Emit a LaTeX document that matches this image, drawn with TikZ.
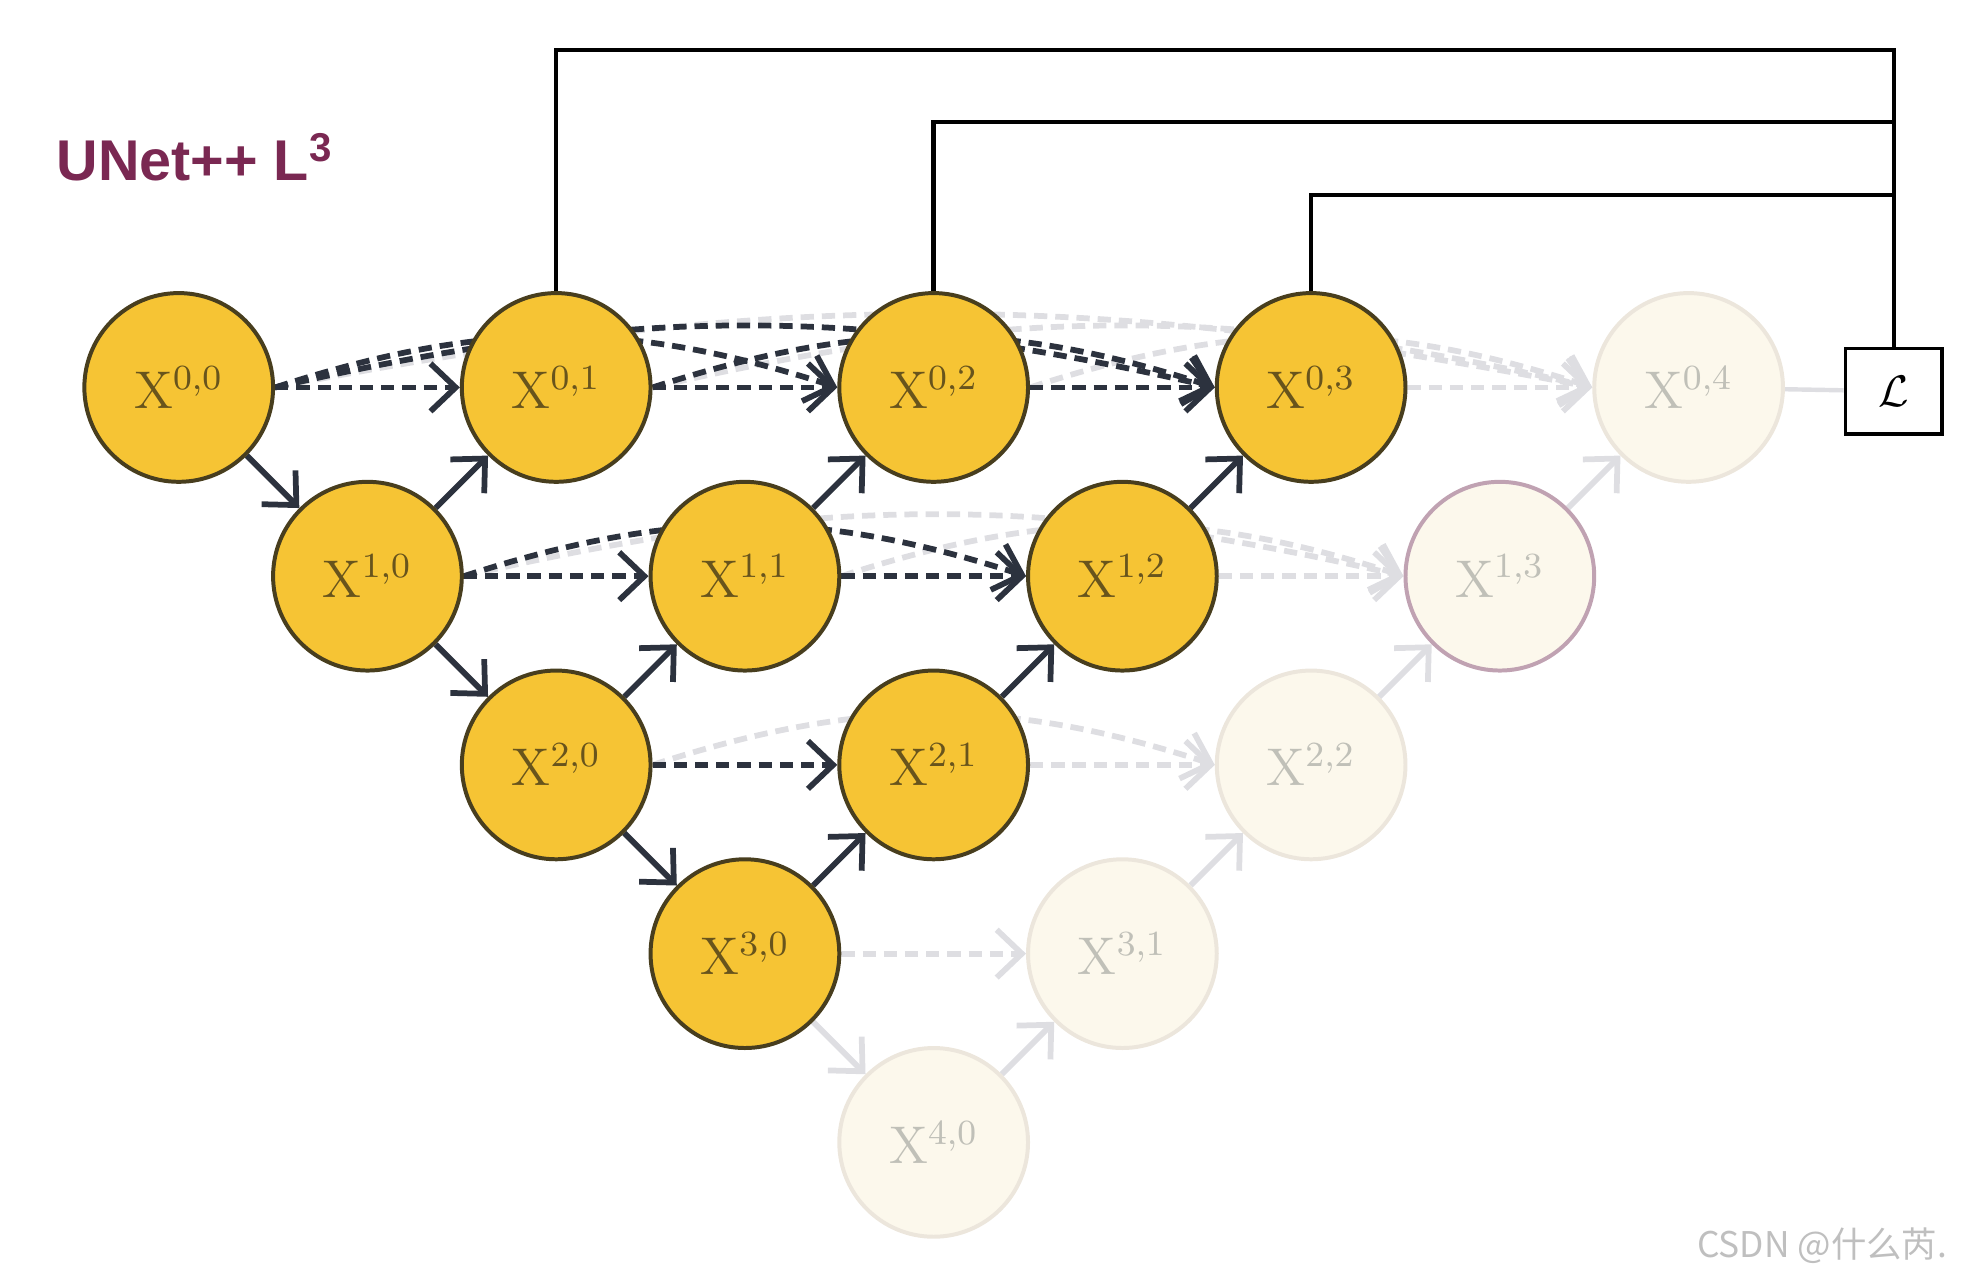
\documentclass[tikz,border=0pt]{standalone}
\usepackage{fontspec}
\usetikzlibrary{arrows.meta,backgrounds}
\newfontfamily\titlefont{Liberation Sans}
\newfontfamily\cjk{Noto Sans CJK SC}
\definecolor{cellfill}{RGB}{246,196,52}
\definecolor{celldraw}{RGB}{72,62,30}
\definecolor{celltext}{RGB}{104,84,28}
\definecolor{ghostfill}{RGB}{252,248,236}
\definecolor{ghostdraw}{RGB}{236,230,220}
\definecolor{ghosttext}{RGB}{192,192,184}
\definecolor{ghostedge}{RGB}{222,222,226}
\definecolor{pinkdraw}{RGB}{192,162,178}
\definecolor{edgecol}{RGB}{44,50,62}
\definecolor{titlecol}{RGB}{122,40,82}
\tikzset{x=1.5cm, y=1.5cm, >={Straight Barb[length=2mm,width=3.8mm]},
    cell/.style={circle, draw=celldraw, fill=cellfill, line width=0.9pt, minimum size=1.5cm,
        inner sep=0pt, text=celltext, font=\large},
    ghost/.style={cell, draw=ghostdraw, fill=ghostfill, text=ghosttext},
    pool/.style={->, line width=1.3pt, draw=edgecol},
    upconv/.style={->, line width=1.3pt, draw=edgecol},
    skipcon/.style={->, line width=1.3pt, draw=edgecol, dash pattern=on 3pt off 1.8pt},
    faded/.style={draw=ghostedge},
    losswire/.style={line width=1pt, draw=black},
    lossbox/.style={draw=black, line width=0.8pt, minimum width=0.77cm, minimum height=0.68cm, inner sep=0pt}
}

\begin{document}
\begin{tikzpicture}
                \useasboundingbox (-0.947,2.053) rectangle (9.507,-4.727);
                \foreach \i/\j in {0/0,1/0,2/0,3/0,0/1,1/1,2/1,0/2,1/2,0/3}
                    \node[cell] (x\i\j) at ({\i+2*\j},{-\i}) {$\mathrm{X}^{\i,\j}$};
                \foreach \i/\j in {4/0,3/1,2/2,0/4}
                    \node[ghost] (x\i\j) at ({\i+2*\j},{-\i}) {$\mathrm{X}^{\i,\j}$};
                \node[ghost, draw=pinkdraw] (x13) at (7,-1) {$\mathrm{X}^{1,3}$};
                \node[lossbox] (loss) at (9.087,-0.02) {$\mathcal{L}$};
                \node[font=\titlefont\bfseries\fontsize{13}{15}\selectfont, text=titlecol] (title)
                    at (0.087,1.22) {UNet++ L\textsuperscript{3}};
                \node[anchor=east, font=\cjk\fontsize{8}{10}\selectfont, text=black!25] (mark)
                    at (9.453,-4.547) {CSDN @什么芮.};
                \begin{scope}[on background layer]
                    \draw[pool, faded] (x30) -- (x40);
                    \foreach \a/\b in {x40/x31,x31/x22,x22/x13,x13/x04}
                        \draw[upconv, faded] (\a) -- (\b);
                    \foreach \a/\b in {x03/x04,x12/x13,x21/x22,x30/x31}
                        \draw[skipcon, faded] (\a) -- (\b);
                    \foreach \a/\b/\t in {x02/x04/18,x01/x04/13,x00/x04/11,x11/x13/18,x10/x13/13,x20/x22/18}
                        \draw[skipcon, faded] (\a.east) to[bend left=\t] (\b.west);
                    \draw[losswire, faded] (x04) -- (loss);
                    \foreach \a/\b in {x00/x10,x10/x20,x20/x30}
                        \draw[pool] (\a) -- (\b);
                    \foreach \a/\b in {x10/x01,x20/x11,x11/x02,x30/x21,x21/x12,x12/x03}
                        \draw[upconv] (\a) -- (\b);
                    \foreach \a/\b in {x00/x01,x01/x02,x02/x03,x10/x11,x11/x12,x20/x21}
                        \draw[skipcon] (\a) -- (\b);
                    \foreach \a/\b/\t in {x00/x02/18,x00/x03/13,x01/x03/18,x10/x12/18}
                        \draw[skipcon] (\a.east) to[bend left=\t] (\b.west);
                \end{scope}
                \draw[losswire] (x01.north) -- (x01 |- 0,1.787) -| (loss.north);
                \draw[losswire] (x02.north) -- (x02 |- 0,1.407) -| (loss.north);
                \draw[losswire] (x03.north) -- (x03 |- 0,1.02) -| (loss.north);
            \end{tikzpicture}
\end{document}
